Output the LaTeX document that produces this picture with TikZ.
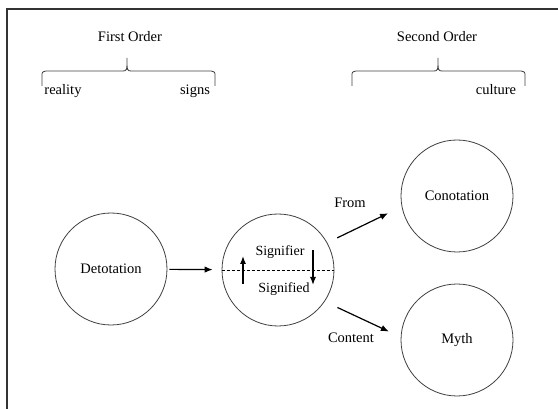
\documentclass[tikz,border=0pt]{standalone}
\usepackage{fontspec}
\setmainfont{Liberation Serif}
\usetikzlibrary{positioning, arrows.meta}

\begin{document}
\begin{tikzpicture}[x=1pt,y=-1pt,
    circ/.style={circle,draw=black!75,line width=0.8pt,minimum size=112pt,inner sep=0pt,font=\fontsize{14.5}{17}\selectfont},
    txt/.style={inner sep=0pt,font=\fontsize{14.5}{17}\selectfont},
    brc/.style={line width=0.8pt,black!75},
    arr/.style={-{Latex[length=8pt,width=6.5pt]},line width=1.2pt}]
  \useasboundingbox (0,0) rectangle (558,409);
  \draw[line width=1.4pt,black!80] (570,9) -- (7,9) -- (7,420);

  % orders
  \node[txt] (first) at (130,37) {First Order};
  \node[txt] (second) at (437,37) {Second Order};
  \draw[brc] (42,86) -- (42,76) .. controls (42,72) .. (46,71) -- (122,71)
    .. controls (127,71) .. (127,58) .. controls (127,71) .. (132,71)
    -- (211,71) .. controls (215,72) .. (215,76) -- (215,86);
  \draw[brc] (352,86) -- (352,76) .. controls (352,72) .. (356,71) -- (433,71)
    .. controls (438,71) .. (438,58) .. controls (438,71) .. (443,71)
    -- (521,71) .. controls (525,72) .. (525,76) -- (525,86);
  \node[txt] (real) at (63,91) {reality};
  \node[txt] (signs) at (195,91) {signs};
  \node[txt] (cult) at (496,90) {culture};

  % circles
  \node[circ] (deno) at (111,269) {Detotation};
  \node[circ] (sign) at (278,270) {};
  \node[circ] (cono) at (457,196) {Conotation};
  \node[circ] (myth) at (457,340) {Myth};

  \node[txt,font=\fontsize{14}{16}\selectfont] (sigr) at (280,252) {Signifier};
  \node[txt,font=\fontsize{14}{16}\selectfont] (sigd) at (284,289) {Signified};
  \draw[dashed,dash pattern=on 3pt off 2pt,line width=0.8pt] (sign.west) -- (sign.east);
  \coordinate (up_1) at (243,284);
  \coordinate (up_2) at (243,256);
  \coordinate (dn_1) at (313,250);
  \coordinate (dn_2) at (313,285);
  \draw[-{Latex[length=8pt,width=6pt]},line width=1.3pt] (up_1) -- (up_2);
  \draw[-{Latex[length=8pt,width=6pt]},line width=1.3pt] (dn_1) -- (dn_2);

  \draw[arr,shorten <=2pt,shorten >=9pt] (deno) -- (sign);
  \draw[arr,shorten <=11pt,shorten >=15pt] (sign.29) -- (cono.191);
  \draw[arr,shorten <=14pt,shorten >=13pt] (sign.326) -- (myth.177);
  \node[txt] (from) at (350,203) {From};
  \node[txt] (cont) at (351,338) {Content};
\end{tikzpicture}
\end{document}
